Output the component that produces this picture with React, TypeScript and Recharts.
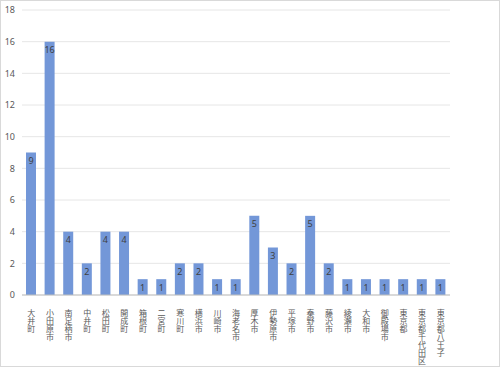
import React from "react";
import { BarChart, Bar, XAxis, YAxis, CartesianGrid, LabelList } from "recharts";

const categories = [
  "大井町", "小田原市", "南足柄市", "中井町", "松田町", "開成町", "箱根町", "二宮町",
  "寒川町", "横浜市", "川崎市", "海老名市", "厚木市", "伊勢原市", "平塚市", "秦野市",
  "藤沢市", "綾瀬市", "大和市", "御殿場市", "東京都", "東京都千代田区", "東京都八王子",
];
const counts = [9, 16, 4, 2, 4, 4, 1, 1, 2, 2, 1, 1, 5, 3, 2, 5, 2, 1, 1, 1, 1, 1, 1];
const yTicks = [0, 2, 4, 6, 8, 10, 12, 14, 16, 18];

const data = categories.map((name, i) => ({ name, value: counts[i] }));

const VerticalTick = (props: any) => {
  const { x, y, payload } = props;
  return (
    <g transform={`translate(${x},${y})`}>
      <text
        x={0}
        y={6}
        fill="#595959"
        fontSize={8}
        fontFamily="'Noto Sans CJK JP', sans-serif"
        style={{ writingMode: "vertical-rl" as any }}
      >
        {payload.value}
      </text>
    </g>
  );
};

export default function App() {
  return (
    <div
      style={{
        position: "absolute",
        left: 0,
        top: 0,
        width: 500,
        height: 367,
        border: "1px solid #d9d9d9",
        boxSizing: "border-box",
        background: "#fff",
      }}
    >
      <div style={{ position: "absolute", left: -1, top: -1 }}>
        <BarChart
          width={500}
          height={367}
          data={data}
          margin={{ top: 10, right: 50, bottom: 0, left: 0 }}
          barSize={10}
        >
          <CartesianGrid vertical={false} stroke="#e6e6e6" />
          <XAxis
            dataKey="name"
            interval={0}
            tick={<VerticalTick />}
            tickLine={false}
            axisLine={{ stroke: "#bfbfbf" }}
            height={72}
          />
          <YAxis
            domain={[0, 18]}
            ticks={yTicks}
            width={22}
            axisLine={false}
            tickLine={false}
            tickSize={0}
            tickMargin={7}
            tick={{ fill: "#595959", fontSize: 9, fontFamily: "'Noto Sans', sans-serif" }}
          />
          <Bar dataKey="value" fill="#7397d8" isAnimationActive={false}>
            <LabelList
              dataKey="value"
              position="insideTop"
              offset={5}
              fill="#404040"
              fontSize={9}
              fontFamily="'Noto Sans', sans-serif"
            />
          </Bar>
        </BarChart>
      </div>
    </div>
  );
}
